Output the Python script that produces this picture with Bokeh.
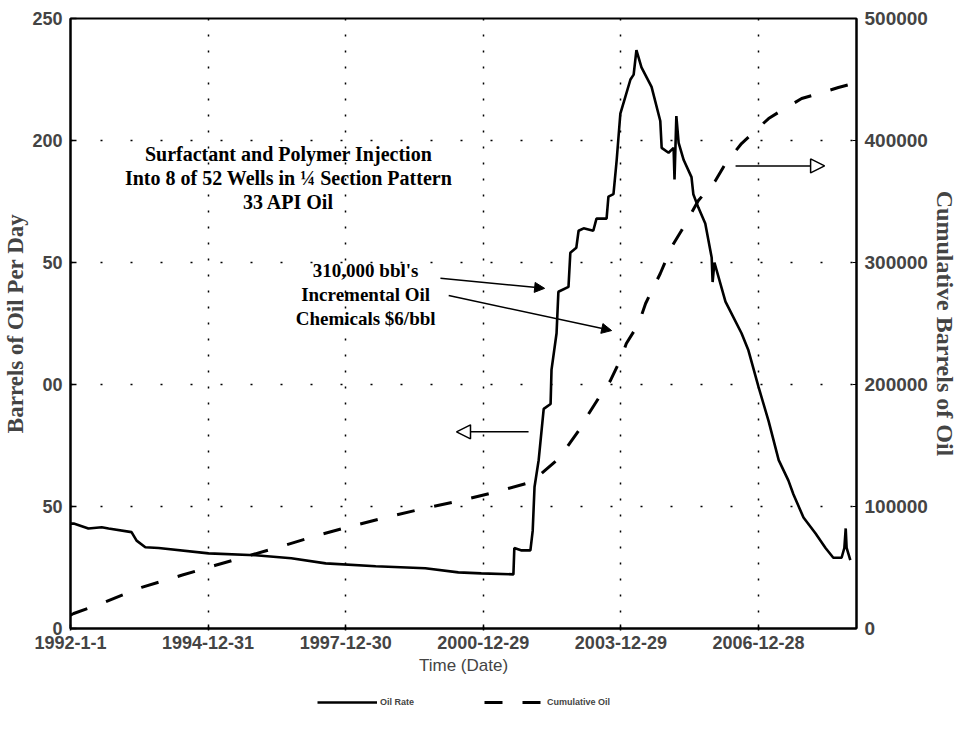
import pandas as pd
from bokeh.plotting import figure
from bokeh.layouts import column
from bokeh.models import (Range1d, LinearAxis, FixedTicker, Label, Arrow,
                          NormalHead, Legend, LegendItem, ColumnDataSource)
from bokeh.embed import file_html
from bokeh.resources import INLINE

# ---------------- data ----------------
tick_dates = ["1992-1-1", "1994-12-31", "1997-12-30", "2000-12-29", "2003-12-29", "2006-12-28"]
rate_ticks = [0, 50, 100, 150, 200, 250]
rate_tick_labels = ["0", "50", "00", "50", "200", "250"]
cum_ticks = [0, 100000, 200000, 300000, 400000, 500000]
cum_tick_labels = ["0", "100000", "200000", "300000", "400000", "500000"]

# oil rate (bbl/day) vs decimal year
rate_year = [1992.00, 1992.07, 1992.39, 1992.68, 1992.83, 1993.33, 1993.44, 1993.63, 1993.92,
             1995.01, 1996.03, 1996.81, 1997.56, 1998.65, 1999.73, 2000.45, 2000.95, 2001.65,
             2001.67, 2001.83, 2002.02, 2002.07, 2002.11, 2002.20, 2002.31, 2002.46, 2002.48,
             2002.59, 2002.63, 2002.85, 2002.89, 2003.02, 2003.07, 2003.18, 2003.39, 2003.46,
             2003.68, 2003.72, 2003.83, 2003.90, 2003.98, 2004.09, 2004.20, 2004.27, 2004.33,
             2004.44, 2004.66, 2004.85, 2004.88, 2005.03, 2005.14, 2005.16, 2005.20, 2005.25,
             2005.36, 2005.53, 2005.57, 2005.68, 2005.83, 2005.97, 2005.99, 2006.03, 2006.27,
             2006.62, 2006.77, 2006.99, 2007.21, 2007.43, 2007.64, 2007.75, 2007.97, 2008.23,
             2008.45, 2008.62, 2008.80, 2008.86, 2008.89, 2008.91, 2008.99]
rate_value = [43, 43, 41, 41.5, 41, 39.5, 36, 33.3, 33,
              30.8, 30, 28.8, 26.7, 25.5, 24.7, 23, 22.6, 22.2,
              33, 32, 32, 40, 58, 69, 90, 92, 106,
              121, 138, 140, 154, 156, 163, 164, 163, 168,
              168, 177, 178, 192, 211, 218, 225, 227, 237,
              230, 222, 208, 197, 195, 197, 184, 210, 199,
              192, 185, 178, 172.5, 166, 152, 142, 150, 134,
              121, 114, 99, 85, 69, 60.7, 55, 45.5, 39,
              33, 29, 29, 33, 41, 33, 28]

# cumulative oil (bbl) vs decimal year
cum_year = [1992.00, 1992.07, 1992.68, 1993.55, 1994.42, 1995.16, 1996.68, 1997.40, 1998.12,
            1998.99, 1999.73, 2000.45, 2001.17, 2002.04, 2002.63, 2003.07, 2003.29, 2003.57,
            2003.76, 2004.00, 2004.11, 2004.38, 2004.53, 2004.85, 2005.09, 2005.31, 2005.68,
            2006.05, 2006.27, 2006.62, 2006.92, 2007.21, 2007.49, 2007.93, 2008.30, 2008.73,
            2009.08]
cum_value = [11000, 12300, 20600, 33700, 43600, 51800, 68300, 76500, 83900,
             92100, 98700, 104400, 111000, 120000, 139000, 162000, 176000, 192600,
             203000, 222000, 233600, 250000, 266400, 291000, 312300, 326000, 350800,
             367000, 381000, 397500, 408000, 418000, 424600, 434400, 438500, 443400,
             447000]

x_end_year = 2009.125

title_lines = ["Surfactant and Polymer Injection",
               "Into 8 of 52 Wells in \u00bc Section Pattern",
               "33 API Oil"]
note_lines = ["310,000 bbl's", "Incremental Oil", "Chemicals $6/bbl"]
series_names = ["Oil Rate", "Cumulative Oil"]

# ---------------- helpers ----------------
start = pd.Timestamp("1992-01-01")


def yr_to_days(y):
    return (y - 1992.0) * 365.25


tick_days = [int((pd.Timestamp(d) - start).days) for d in tick_dates]
rate_src = ColumnDataSource(dict(x=[yr_to_days(v) for v in rate_year], y=rate_value))
cum_src = ColumnDataSource(dict(x=[yr_to_days(v) for v in cum_year], y=cum_value))

SANS = "Liberation Sans"
SERIF = "Liberation Serif"
RATE_STYLE = dict(line_color="black", line_width=2.6)
CUM_STYLE = dict(line_color="black", line_width=3, line_dash="18 20")

p = figure(frame_width=786, frame_height=610,
           min_border_left=64, min_border_right=97, min_border_top=18, min_border_bottom=52,
           x_range=Range1d(0, yr_to_days(x_end_year)), y_range=Range1d(0, 250),
           output_backend="svg", toolbar_location=None,
           background_fill_color="white", border_fill_color="white")
p.extra_y_ranges = {"cum": Range1d(0, 500000)}

p.outline_line_color = "black"
p.outline_line_width = 2

# x axis
xa = p.xaxis[0]
xa.ticker = FixedTicker(ticks=tick_days)
xa.major_label_overrides = {d: s for d, s in zip(tick_days, tick_dates)}
xa.axis_label = "Time (Date)"
xa.axis_label_text_font = SANS
xa.axis_label_text_font_style = "normal"
xa.axis_label_text_font_size = "17px"
xa.axis_label_standoff = 4
xa.major_label_text_font = SANS
xa.major_label_text_font_style = "bold"
xa.major_label_text_font_size = "18px"
xa.major_label_standoff = 5
xa.major_tick_in = 4
xa.major_tick_out = 2
xa.minor_tick_line_color = None
xa.axis_line_width = 2
xa.major_tick_line_width = 1.5

# left axis
ya = p.yaxis[0]
ya.ticker = FixedTicker(ticks=rate_ticks)
ya.major_label_overrides = {t: s for t, s in zip(rate_ticks, rate_tick_labels)}
ya.axis_label = "Barrels of Oil Per Day"
ya.axis_label_text_font = SERIF
ya.axis_label_text_font_style = "bold"
ya.axis_label_text_font_size = "23px"
ya.axis_label_standoff = 1
ya.major_label_text_font = SANS
ya.major_label_text_font_style = "bold"
ya.major_label_text_font_size = "18px"
ya.major_label_standoff = 8
ya.major_tick_in = 6
ya.major_tick_out = 0
ya.minor_tick_line_color = None
ya.axis_line_width = 2
ya.major_tick_line_width = 1.5

# right axis
ra = LinearAxis(y_range_name="cum", ticker=FixedTicker(ticks=cum_ticks))
ra.major_label_overrides = {t: s for t, s in zip(cum_ticks, cum_tick_labels)}
ra.axis_label = "Cumulative Barrels of Oil"
ra.axis_label_text_font = SERIF
ra.axis_label_text_font_style = "bold"
ra.axis_label_text_font_size = "24px"
ra.axis_label_standoff = 1
ra.major_label_text_font = SANS
ra.major_label_text_font_style = "bold"
ra.major_label_text_font_size = "19px"
ra.major_label_standoff = 8
ra.major_tick_in = 4
ra.major_tick_out = 0
ra.minor_tick_line_color = None
ra.axis_line_width = 2
p.add_layout(ra, "right")

# dotted grid
p.xgrid.grid_line_color = "black"
p.xgrid.grid_line_dash = "2 14"
p.xgrid.grid_line_width = 1.5
p.ygrid.grid_line_color = "black"
p.ygrid.grid_line_dash = "2 28"
p.ygrid.grid_line_width = 1.5

# curves
p.line("x", "y", source=rate_src, **RATE_STYLE)
p.line("x", "y", source=cum_src, y_range_name="cum", **CUM_STYLE)

# annotations
for i, t in enumerate(title_lines):
    p.add_layout(Label(x=yr_to_days(1996.75), y=194.5 - i * 9.8, text=t,
                       text_font=SERIF, text_font_style="bold", text_font_size="20px",
                       text_align="center", text_baseline="middle", text_color="black"))
for i, t in enumerate(note_lines):
    p.add_layout(Label(x=yr_to_days(1998.43), y=146.6 - i * 9.8, text=t,
                       text_font=SERIF, text_font_style="bold", text_font_size="19px",
                       text_align="center", text_baseline="middle", text_color="black"))

p.add_layout(Arrow(end=NormalHead(size=10, fill_color="black", line_color="black"),
                   x_start=yr_to_days(2000.06), y_start=143.5,
                   x_end=yr_to_days(2002.33), y_end=139.4,
                   line_color="black", line_width=1.5))
p.add_layout(Arrow(end=NormalHead(size=10, fill_color="black", line_color="black"),
                   x_start=yr_to_days(2000.24), y_start=136.5,
                   x_end=yr_to_days(2003.79), y_end=122.1,
                   line_color="black", line_width=1.5))
p.add_layout(Arrow(end=NormalHead(size=14, fill_color="white", line_color="black", line_width=1.5),
                   x_start=yr_to_days(2001.98), y_start=80.6,
                   x_end=yr_to_days(2000.41), y_end=80.6,
                   line_color="black", line_width=1.5))
p.add_layout(Arrow(end=NormalHead(size=14, fill_color="white", line_color="black", line_width=1.5),
                   x_start=yr_to_days(2006.49), y_start=189.6,
                   x_end=yr_to_days(2008.43), y_end=189.6,
                   line_color="black", line_width=1.5))

# ---------------- legend strip below the chart ----------------
lg = figure(width=947, height=44, x_range=Range1d(0, 1), y_range=Range1d(0, 1),
            x_axis_type=None, y_axis_type=None, output_backend="svg",
            toolbar_location=None, min_border=0, outline_line_color=None,
            background_fill_color="white", border_fill_color="white")
lg.xgrid.visible = False
lg.ygrid.visible = False
nan = float("nan")
g_rate = lg.line("x", "y", source=ColumnDataSource(dict(x=[nan], y=[nan])), **RATE_STYLE)
g_cum = lg.line("x", "y", source=ColumnDataSource(dict(x=[nan], y=[nan])), **CUM_STYLE)
legend = Legend(items=[LegendItem(label=series_names[0], renderers=[g_rate]),
                       LegendItem(label=series_names[1], renderers=[g_cum])],
                orientation="horizontal", location=(245, 14),
                border_line_alpha=0, background_fill_alpha=0,
                label_text_font=SANS, label_text_font_style="bold",
                label_text_font_size="9px", glyph_width=60, glyph_height=12,
                spacing=70, padding=2, margin=0, label_standoff=3, label_height=12)
lg.add_layout(legend, "center")

open("out.html", "w").write(file_html(column(p, lg, spacing=0), INLINE))
